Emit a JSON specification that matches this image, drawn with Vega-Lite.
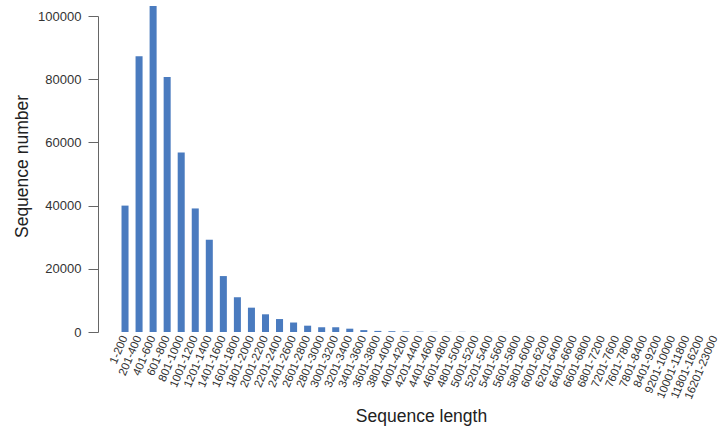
{
  "$schema": "https://vega.github.io/schema/vega-lite/v6.json",
  "width": 604,
  "height": 316,
  "autosize": {"type": "none"},
  "padding": {"left": 118, "top": 16, "right": 1, "bottom": 100},
  "background": "white",
  "config": {"view": {"stroke": null}, "font": "Liberation Sans"},
  "data": {"values": [
    {"len": "1-200", "n": 40000},
    {"len": "201-400", "n": 87300},
    {"len": "401-600", "n": 103200},
    {"len": "601-800", "n": 80700},
    {"len": "801-1000", "n": 56800},
    {"len": "1001-1200", "n": 39100},
    {"len": "1201-1400", "n": 29200},
    {"len": "1401-1600", "n": 17700},
    {"len": "1601-1800", "n": 11000},
    {"len": "1801-2000", "n": 7700},
    {"len": "2001-2200", "n": 5600},
    {"len": "2201-2400", "n": 4100},
    {"len": "2401-2600", "n": 3000},
    {"len": "2601-2800", "n": 2000},
    {"len": "2801-3000", "n": 1500},
    {"len": "3001-3200", "n": 1500},
    {"len": "3201-3400", "n": 1050},
    {"len": "3401-3600", "n": 600},
    {"len": "3601-3800", "n": 350},
    {"len": "3801-4000", "n": 250},
    {"len": "4001-4200", "n": 180},
    {"len": "4201-4400", "n": 120},
    {"len": "4401-4600", "n": 80},
    {"len": "4601-4800", "n": 60},
    {"len": "4801-5000", "n": 45},
    {"len": "5001-5200", "n": 35},
    {"len": "5201-5400", "n": 28},
    {"len": "5401-5600", "n": 22},
    {"len": "5601-5800", "n": 18},
    {"len": "5801-6000", "n": 14},
    {"len": "6001-6200", "n": 12},
    {"len": "6201-6400", "n": 10},
    {"len": "6401-6600", "n": 8},
    {"len": "6601-6800", "n": 7},
    {"len": "6801-7200", "n": 9},
    {"len": "7201-7600", "n": 6},
    {"len": "7601-7800", "n": 4},
    {"len": "7801-8400", "n": 5},
    {"len": "8401-9200", "n": 4},
    {"len": "9201-10000", "n": 3},
    {"len": "10001-11800", "n": 3},
    {"len": "11801-16200", "n": 2},
    {"len": "16201-23000", "n": 1}
  ]},
  "mark": {"type": "bar", "color": "#4a7bbf"},
  "encoding": {
    "x": {
      "field": "len", "type": "nominal", "sort": null,
      "scale": {"paddingInner": 0.5, "paddingOuter": 0.25},
      "axis": {
        "title": "Sequence length",
        "titleFontSize": 17.5, "titleFontWeight": "normal", "titleColor": "#222",
        "titleX": 303, "titleY": 89, "titleBaseline": "alphabetic", "titleAlign": "center",
        "labelAngle": -67, "labelAlign": "right", "labelBaseline": "middle",
        "labelFontSize": 11.5, "labelColor": "#333", "labelPadding": 4,
        "domain": false, "ticks": false, "labelOverlap": false
      }
    },
    "y": {
      "field": "n", "type": "quantitative",
      "scale": {"domain": [0, 100000], "nice": false, "zero": true},
      "axis": {
        "title": "Sequence number",
        "titleFontSize": 17.5, "titleFontWeight": "normal", "titleColor": "#222",
        "titleX": -76, "titleY": 150, "titleAngle": -90, "titleBaseline": "middle", "titleAlign": "center",
        "values": [0, 20000, 40000, 60000, 80000, 100000],
        "format": "d",
        "offset": 20, "tickSize": 10, "tickColor": "#666", "domainColor": "#666",
        "labelFontSize": 13, "labelColor": "#333", "labelPadding": 7,
        "grid": false
      }
    }
  }
}
